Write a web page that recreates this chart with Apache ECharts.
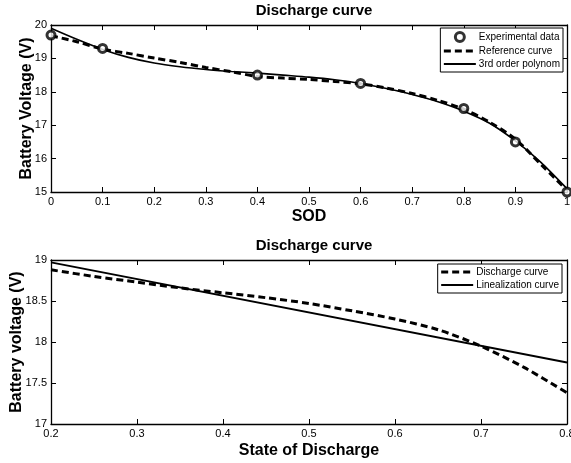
<!DOCTYPE html>
<html>
<head>
<meta charset="utf-8">
<title>Discharge curve</title>
<script src="https://cdn.jsdelivr.net/npm/echarts@6/dist/echarts.min.js"></script>
<style>
  html, body { margin: 0; padding: 0; background: #fff }
  #chart { width: 571px; height: 463px }
</style>
</head>
<body>
<div id="chart"></div>
<script>
// top panel: measured points, reference curve and cubic fit
var sodExp = [0, 0.1, 0.4, 0.6, 0.8, 0.9, 1]
var voltExp = [19.7, 19.3, 18.5, 18.25, 17.5, 16.5, 15.0]

var sodCurve = [0, 0.05, 0.1, 0.15, 0.2, 0.25, 0.3, 0.35, 0.4, 0.45, 0.5,
  0.55, 0.6, 0.65, 0.7, 0.75, 0.8, 0.85, 0.9, 0.95, 1]
var voltRef = [19.68, 19.5, 19.28, 19.15, 19.01, 18.88, 18.73, 18.6, 18.46, 18.41, 18.37,
  18.31, 18.24, 18.11, 17.95, 17.74, 17.48, 17.09, 16.58, 15.82, 15.05]
var voltPoly = [19.9, 19.57, 19.27, 19.03, 18.86, 18.75, 18.67, 18.61, 18.56, 18.5, 18.44,
  18.36, 18.25, 18.1, 17.92, 17.7, 17.42, 17.06, 16.53, 15.88, 15.1]

// bottom panel: discharge curve and its linear approximation
var sodDis = [0.2, 0.25, 0.3, 0.35, 0.4, 0.45, 0.5, 0.55, 0.6, 0.65, 0.7, 0.75, 0.8]
var voltDis = [18.88, 18.8, 18.73, 18.66, 18.6, 18.54, 18.47, 18.38, 18.28, 18.15, 17.95, 17.69, 17.38]
var sodLin = [0.2, 0.8]
var voltLin = [18.97, 17.75]

var titles = ['Discharge curve', 'Discharge curve']
var xNames = ['SOD', 'State of Discharge']
var yNames = ['Battery Voltage (V)', 'Battery voltage (V)']

var font = "'Liberation Sans', Arial, sans-serif"

function pairs (xs, ys) {
  return xs.map((x, i) => [x, ys[i]])
}

// primary axes carry labels and a name, the mirrored ones only close the box
function axis (kind, grid, range, name, gap) {
  var primary = !!name
  var a = {
    type: 'value',
    gridIndex: grid,
    min: range[0],
    max: range[1],
    interval: range[2],
    splitLine: { show: false },
    axisLine: { show: true, onZero: false, lineStyle: { color: '#000', width: 1.3 } },
    axisTick: { show: true, inside: true, length: 5, lineStyle: { color: '#000', width: 1 } },
    axisLabel: { show: primary, color: '#000', fontSize: 11, fontFamily: font, margin: 4, hideOverlap: false }
  }
  if (kind === 'x') a.position = primary ? 'bottom' : 'top'
  else a.position = primary ? 'left' : 'right'
  if (primary) {
    a.name = name
    a.nameLocation = 'middle'
    a.nameGap = gap
    a.nameMoveOverlap = false
    a.nameTextStyle = { color: '#000', fontSize: 16, fontWeight: 'bold', fontFamily: font }
  }
  return a
}

function legend (names, right, top) {
  return {
    data: names,
    orient: 'vertical', right: right, top: top,
    itemWidth: 32, itemHeight: 9, itemGap: 3,
    padding: [3, 3, 3, 2],
    borderColor: '#000', borderWidth: 1, backgroundColor: '#fff',
    textStyle: { color: '#000', fontSize: 10, fontFamily: font, padding: [0, 0, 0, -2] }
  }
}

// line series: black stroke, invisible marker so the legend shows only the stroke
function lineSeries (name, axisIdx, data, width, dash, smooth) {
  return {
    name: name, type: 'line', xAxisIndex: axisIdx, yAxisIndex: axisIdx,
    data: data, smooth: smooth, symbol: 'none',
    itemStyle: { color: 'rgba(0,0,0,0)', borderWidth: 0 },
    lineStyle: { color: '#000', width: width, type: dash || 'solid' },
    z: dash ? 2 : 3
  }
}

var chart = echarts.init(document.getElementById('chart'), null, { renderer: 'canvas' })

chart.setOption({
  animation: false,
  backgroundColor: '#fff',
  title: [
    { text: titles[0], left: 309, top: -2, textAlign: 'center',
      textStyle: { color: '#000', fontSize: 15, fontWeight: 'bold', fontFamily: font } },
    { text: titles[1], left: 309, top: 233, textAlign: 'center',
      textStyle: { color: '#000', fontSize: 15, fontWeight: 'bold', fontFamily: font } }
  ],
  grid: [
    { left: 51, right: 4, top: 25, height: 167, outerBoundsMode: 'none', containLabel: false },
    { left: 51, right: 4, top: 260, height: 164, outerBoundsMode: 'none', containLabel: false }
  ],
  xAxis: [
    axis('x', 0, [0, 1, 0.1], xNames[0], 17),
    axis('x', 0, [0, 1, 0.1], ''),
    axis('x', 1, [0.2, 0.8, 0.1], xNames[1], 19),
    axis('x', 1, [0.2, 0.8, 0.1], '')
  ],
  yAxis: [
    axis('y', 0, [15, 20, 1], yNames[0], 16),
    axis('y', 0, [15, 20, 1], ''),
    axis('y', 1, [17, 19, 0.5], yNames[1], 26),
    axis('y', 1, [17, 19, 0.5], '')
  ],
  legend: [
    legend([
      { name: 'Experimental data', itemStyle: { color: '#fff', borderColor: '#000', borderWidth: 3 } },
      { name: 'Reference curve', lineStyle: { width: 3 } },
      '3rd order polynom'
    ], 8, 28),
    legend([{ name: 'Discharge curve', lineStyle: { width: 3 } }, 'Linealization curve'], 9, 264)
  ],
  series: [
    lineSeries('Reference curve', 0, pairs(sodCurve, voltRef), 3, [7, 4], 0.3),
    lineSeries('3rd order polynom', 0, pairs(sodCurve, voltPoly), 1.6, null, 0.3),
    {
      name: 'Experimental data', type: 'scatter', xAxisIndex: 0, yAxisIndex: 0,
      data: pairs(sodExp, voltExp), symbol: 'circle', symbolSize: 8,
      itemStyle: { color: '#fff', borderColor: '#000', borderWidth: 3 }, z: 4
    },
    lineSeries('Discharge curve', 2, pairs(sodDis, voltDis), 3, [7, 4], 0.3),
    lineSeries('Linealization curve', 2, pairs(sodLin, voltLin), 1.8, null, false)
  ]
})
</script>
</body>
</html>
